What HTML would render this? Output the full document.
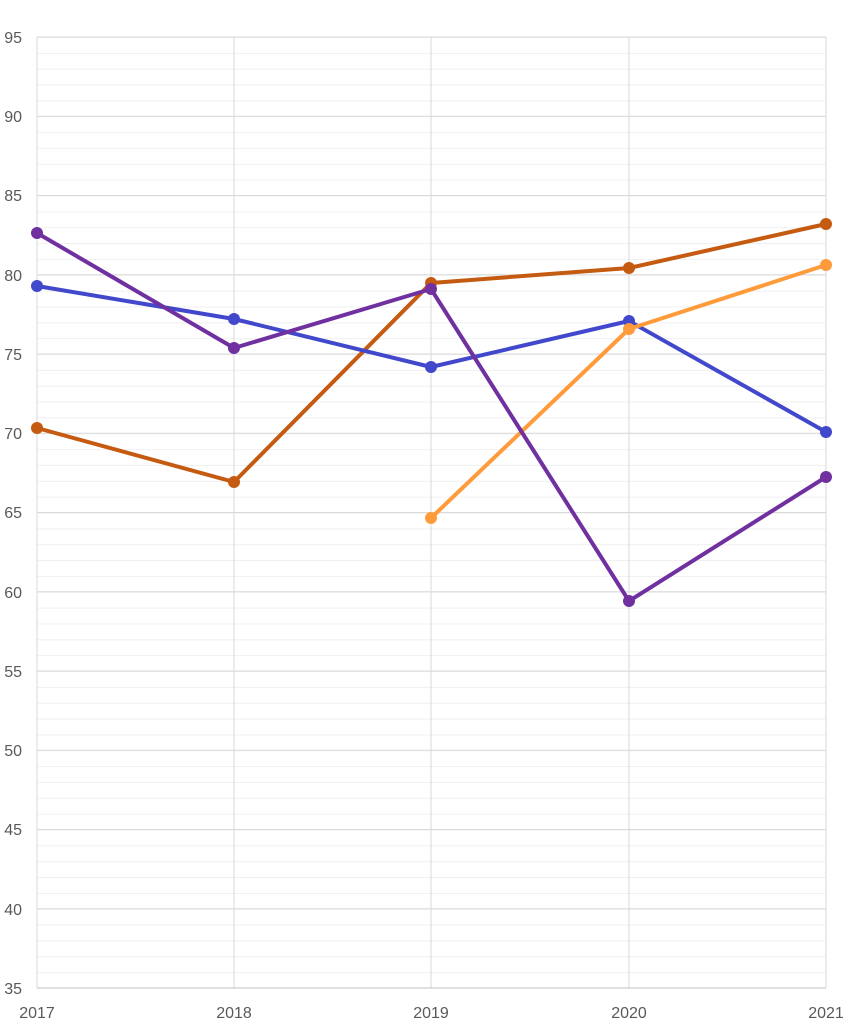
<!DOCTYPE html>
<html><head><style>body{margin:0;background:#fff}svg{display:block}text{font-family:"Liberation Sans",sans-serif;font-size:16px;fill:#595959}</style></head>
<body>
<svg width="854" height="1024" viewBox="0 0 854 1024" xmlns="http://www.w3.org/2000/svg">
<defs>
<pattern id="mn" patternUnits="userSpaceOnUse" x="0" y="37" width="854" height="15.85">
<line x1="0" x2="854" y1="0.5" y2="0.5" stroke="#f0f0f0" stroke-width="1"/>
</pattern>
</defs>
<rect x="37" y="37" width="789" height="951" fill="url(#mn)"/>
<g stroke="#d9d9d9" stroke-width="1">
<line x1="37" x2="826" y1="37" y2="37"/>
<line x1="37" x2="826" y1="116.25" y2="116.25"/>
<line x1="37" x2="826" y1="195.5" y2="195.5"/>
<line x1="37" x2="826" y1="274.75" y2="274.75"/>
<line x1="37" x2="826" y1="354" y2="354"/>
<line x1="37" x2="826" y1="433.25" y2="433.25"/>
<line x1="37" x2="826" y1="512.5" y2="512.5"/>
<line x1="37" x2="826" y1="591.75" y2="591.75"/>
<line x1="37" x2="826" y1="671" y2="671"/>
<line x1="37" x2="826" y1="750.25" y2="750.25"/>
<line x1="37" x2="826" y1="829.5" y2="829.5"/>
<line x1="37" x2="826" y1="908.75" y2="908.75"/>
<line x1="37" x2="37" y1="37" y2="988"/>
<line x1="234" x2="234" y1="37" y2="988"/>
<line x1="431" x2="431" y1="37" y2="988"/>
<line x1="629" x2="629" y1="37" y2="988"/>
<line x1="826" x2="826" y1="37" y2="988"/>
</g>
<line x1="37" x2="826" y1="988" y2="988" stroke="#bfbfbf"/>
<g text-anchor="end">
<text x="22" y="43">95</text>
<text x="22" y="122">90</text>
<text x="22" y="201">85</text>
<text x="22" y="281">80</text>
<text x="22" y="360">75</text>
<text x="22" y="439">70</text>
<text x="22" y="518">65</text>
<text x="22" y="598">60</text>
<text x="22" y="677">55</text>
<text x="22" y="756">50</text>
<text x="22" y="835">45</text>
<text x="22" y="915">40</text>
<text x="22" y="994">35</text>
</g>
<g text-anchor="middle">
<text x="37" y="1018">2017</text>
<text x="234" y="1018">2018</text>
<text x="431" y="1018">2019</text>
<text x="629" y="1018">2020</text>
<text x="826" y="1018">2021</text>
</g>
<g fill="none" stroke-width="4" stroke-linejoin="round">
<polyline points="37,428 234,482 431,283 629,268 826,224" stroke="#c55a11"/>
<polyline points="37,286 234,319 431,367 629,321 826,432" stroke="#4248cc"/>
<polyline points="431,518 629,329 826,265" stroke="#ff9b3a"/>
<polyline points="37,233 234,348 431,289 629,601 826,477" stroke="#7030a0"/>
</g>
<g fill="#c55a11"><circle cx="37" cy="428" r="6"/><circle cx="234" cy="482" r="6"/><circle cx="431" cy="283" r="6"/><circle cx="629" cy="268" r="6"/><circle cx="826" cy="224" r="6"/></g>
<g fill="#4248cc"><circle cx="37" cy="286" r="6"/><circle cx="234" cy="319" r="6"/><circle cx="431" cy="367" r="6"/><circle cx="629" cy="321" r="6"/><circle cx="826" cy="432" r="6"/></g>
<g fill="#ff9b3a"><circle cx="431" cy="518" r="6"/><circle cx="629" cy="329" r="6"/><circle cx="826" cy="265" r="6"/></g>
<g fill="#7030a0"><circle cx="37" cy="233" r="6"/><circle cx="234" cy="348" r="6"/><circle cx="431" cy="289" r="6"/><circle cx="629" cy="601" r="6"/><circle cx="826" cy="477" r="6"/></g>
</svg>
</body></html>
